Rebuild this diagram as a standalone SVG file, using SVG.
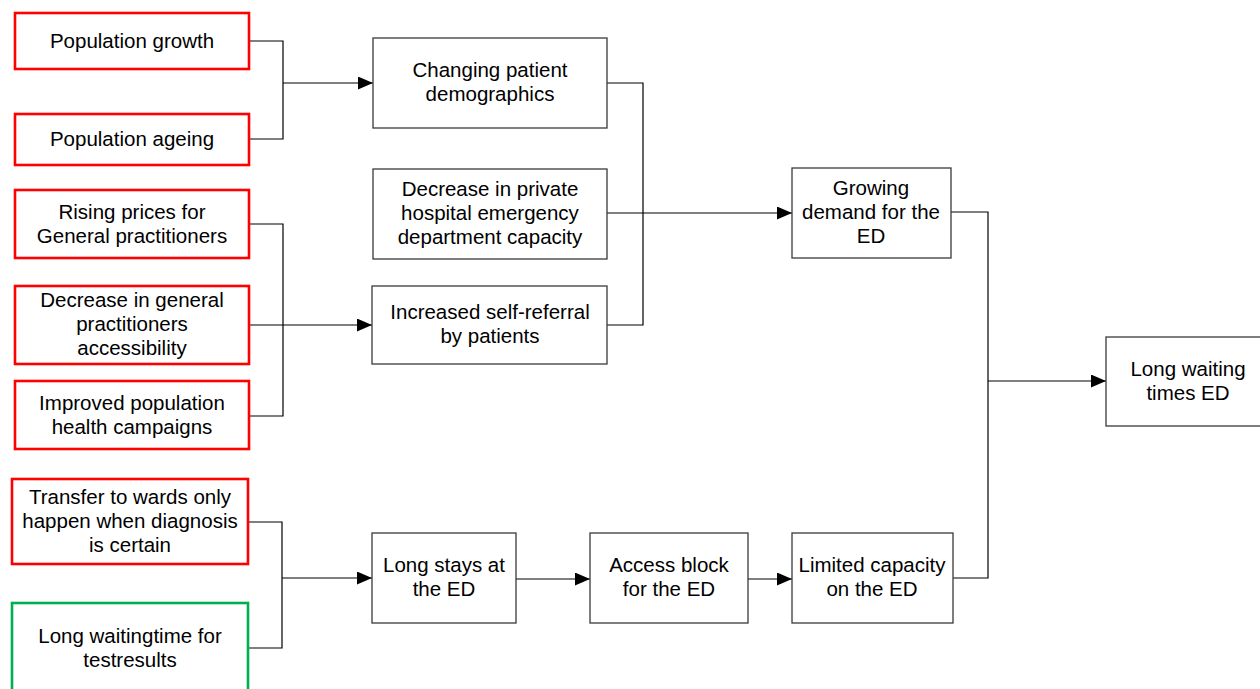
<svg xmlns="http://www.w3.org/2000/svg" width="1260" height="689" viewBox="0 0 1260 689">
  <style>
    text { font-family: "Liberation Sans", Arial, sans-serif; font-size: 20.5px; fill: #000; text-anchor: middle; }
    .box { fill: #fff; stroke: #3a3a3a; stroke-width: 1.3; }
    .red { fill: #fff; stroke: #ff0000; stroke-width: 2.6; }
    .green { fill: #fff; stroke: #00b050; stroke-width: 2.6; }
    .link { fill: none; stroke: #000; stroke-width: 1.2; }
  </style>
  <defs>
    <marker id="arrow" markerUnits="userSpaceOnUse" markerWidth="16" markerHeight="14" refX="15" refY="6.5" orient="auto">
      <path d="M0,0 L15,6.5 L0,13 z" fill="#000"/>
    </marker>
  </defs>

  <!-- connectors -->
  <g id="connectors">
    <path class="link" d="M249,41 H283 V139 H249"/>
    <path class="link" d="M283,83 H373" marker-end="url(#arrow)"/>
    <path class="link" d="M249,224 H283 V416 H249"/>
    <path class="link" d="M249,325 H372" marker-end="url(#arrow)"/>
    <path class="link" d="M248,522 H282 V648 H248"/>
    <path class="link" d="M282,578 H372" marker-end="url(#arrow)"/>
    <path class="link" d="M607,83 H643 V325 H607"/>
    <path class="link" d="M607,213 H643"/>
    <path class="link" d="M643,213 H792" marker-end="url(#arrow)"/>
    <path class="link" d="M951,212 H988 V578 H953"/>
    <path class="link" d="M988,381 H1106" marker-end="url(#arrow)"/>
    <path class="link" d="M516,579 H590" marker-end="url(#arrow)"/>
    <path class="link" d="M748,579 H792" marker-end="url(#arrow)"/>
  </g>

  <g id="population-growth">
    <rect class="red" x="15" y="13" width="234" height="56"/>
    <text x="132" y="48">Population growth</text>
  </g>
  <g id="population-ageing">
    <rect class="red" x="15" y="114" width="234" height="51"/>
    <text x="132" y="146">Population ageing</text>
  </g>
  <g id="rising-prices">
    <rect class="red" x="15" y="190" width="234" height="68"/>
    <text x="132" y="219">Rising prices for</text>
    <text x="132" y="243">General practitioners</text>
  </g>
  <g id="gp-accessibility">
    <rect class="red" x="15" y="286" width="234" height="78"/>
    <text x="132" y="307">Decrease in general</text>
    <text x="132" y="331">practitioners</text>
    <text x="132" y="355">accessibility</text>
  </g>
  <g id="health-campaigns">
    <rect class="red" x="15" y="381" width="234" height="68"/>
    <text x="132" y="410">Improved population</text>
    <text x="132" y="434">health campaigns</text>
  </g>
  <g id="transfer-to-wards">
    <rect class="red" x="12" y="479" width="236" height="85"/>
    <text x="130" y="504">Transfer to wards only</text>
    <text x="130" y="528">happen when diagnosis</text>
    <text x="130" y="552">is certain</text>
  </g>
  <g id="waiting-testresults">
    <rect class="green" x="12" y="603" width="236" height="92"/>
    <text x="130" y="643">Long waitingtime for</text>
    <text x="130" y="667">testresults</text>
  </g>

  <g id="patient-demographics">
    <rect class="box" x="373" y="38" width="234" height="90"/>
    <text x="490" y="77">Changing patient</text>
    <text x="490" y="101">demographics</text>
  </g>
  <g id="private-ed-capacity">
    <rect class="box" x="373" y="169" width="234" height="90"/>
    <text x="490" y="196">Decrease in private</text>
    <text x="490" y="220">hospital emergency</text>
    <text x="490" y="244">department capacity</text>
  </g>
  <g id="self-referral">
    <rect class="box" x="372" y="286" width="235" height="78"/>
    <text x="490" y="319">Increased self-referral</text>
    <text x="490" y="343">by patients</text>
  </g>
  <g id="growing-demand">
    <rect class="box" x="792" y="168" width="159" height="90"/>
    <text x="871" y="195">Growing</text>
    <text x="871" y="219">demand for the</text>
    <text x="871" y="243">ED</text>
  </g>
  <g id="long-waiting-times">
    <rect class="box" x="1106" y="337" width="160" height="89"/>
    <text x="1188" y="376">Long waiting</text>
    <text x="1188" y="400">times ED</text>
  </g>
  <g id="long-stays">
    <rect class="box" x="372" y="533" width="144" height="90"/>
    <text x="444" y="572">Long stays at</text>
    <text x="444" y="596">the ED</text>
  </g>
  <g id="access-block">
    <rect class="box" x="590" y="533" width="158" height="90"/>
    <text x="669" y="572">Access block</text>
    <text x="669" y="596">for the ED</text>
  </g>
  <g id="limited-capacity">
    <rect class="box" x="792" y="533" width="161" height="90"/>
    <text x="872" y="572">Limited capacity</text>
    <text x="872" y="596">on the ED</text>
  </g>
</svg>
